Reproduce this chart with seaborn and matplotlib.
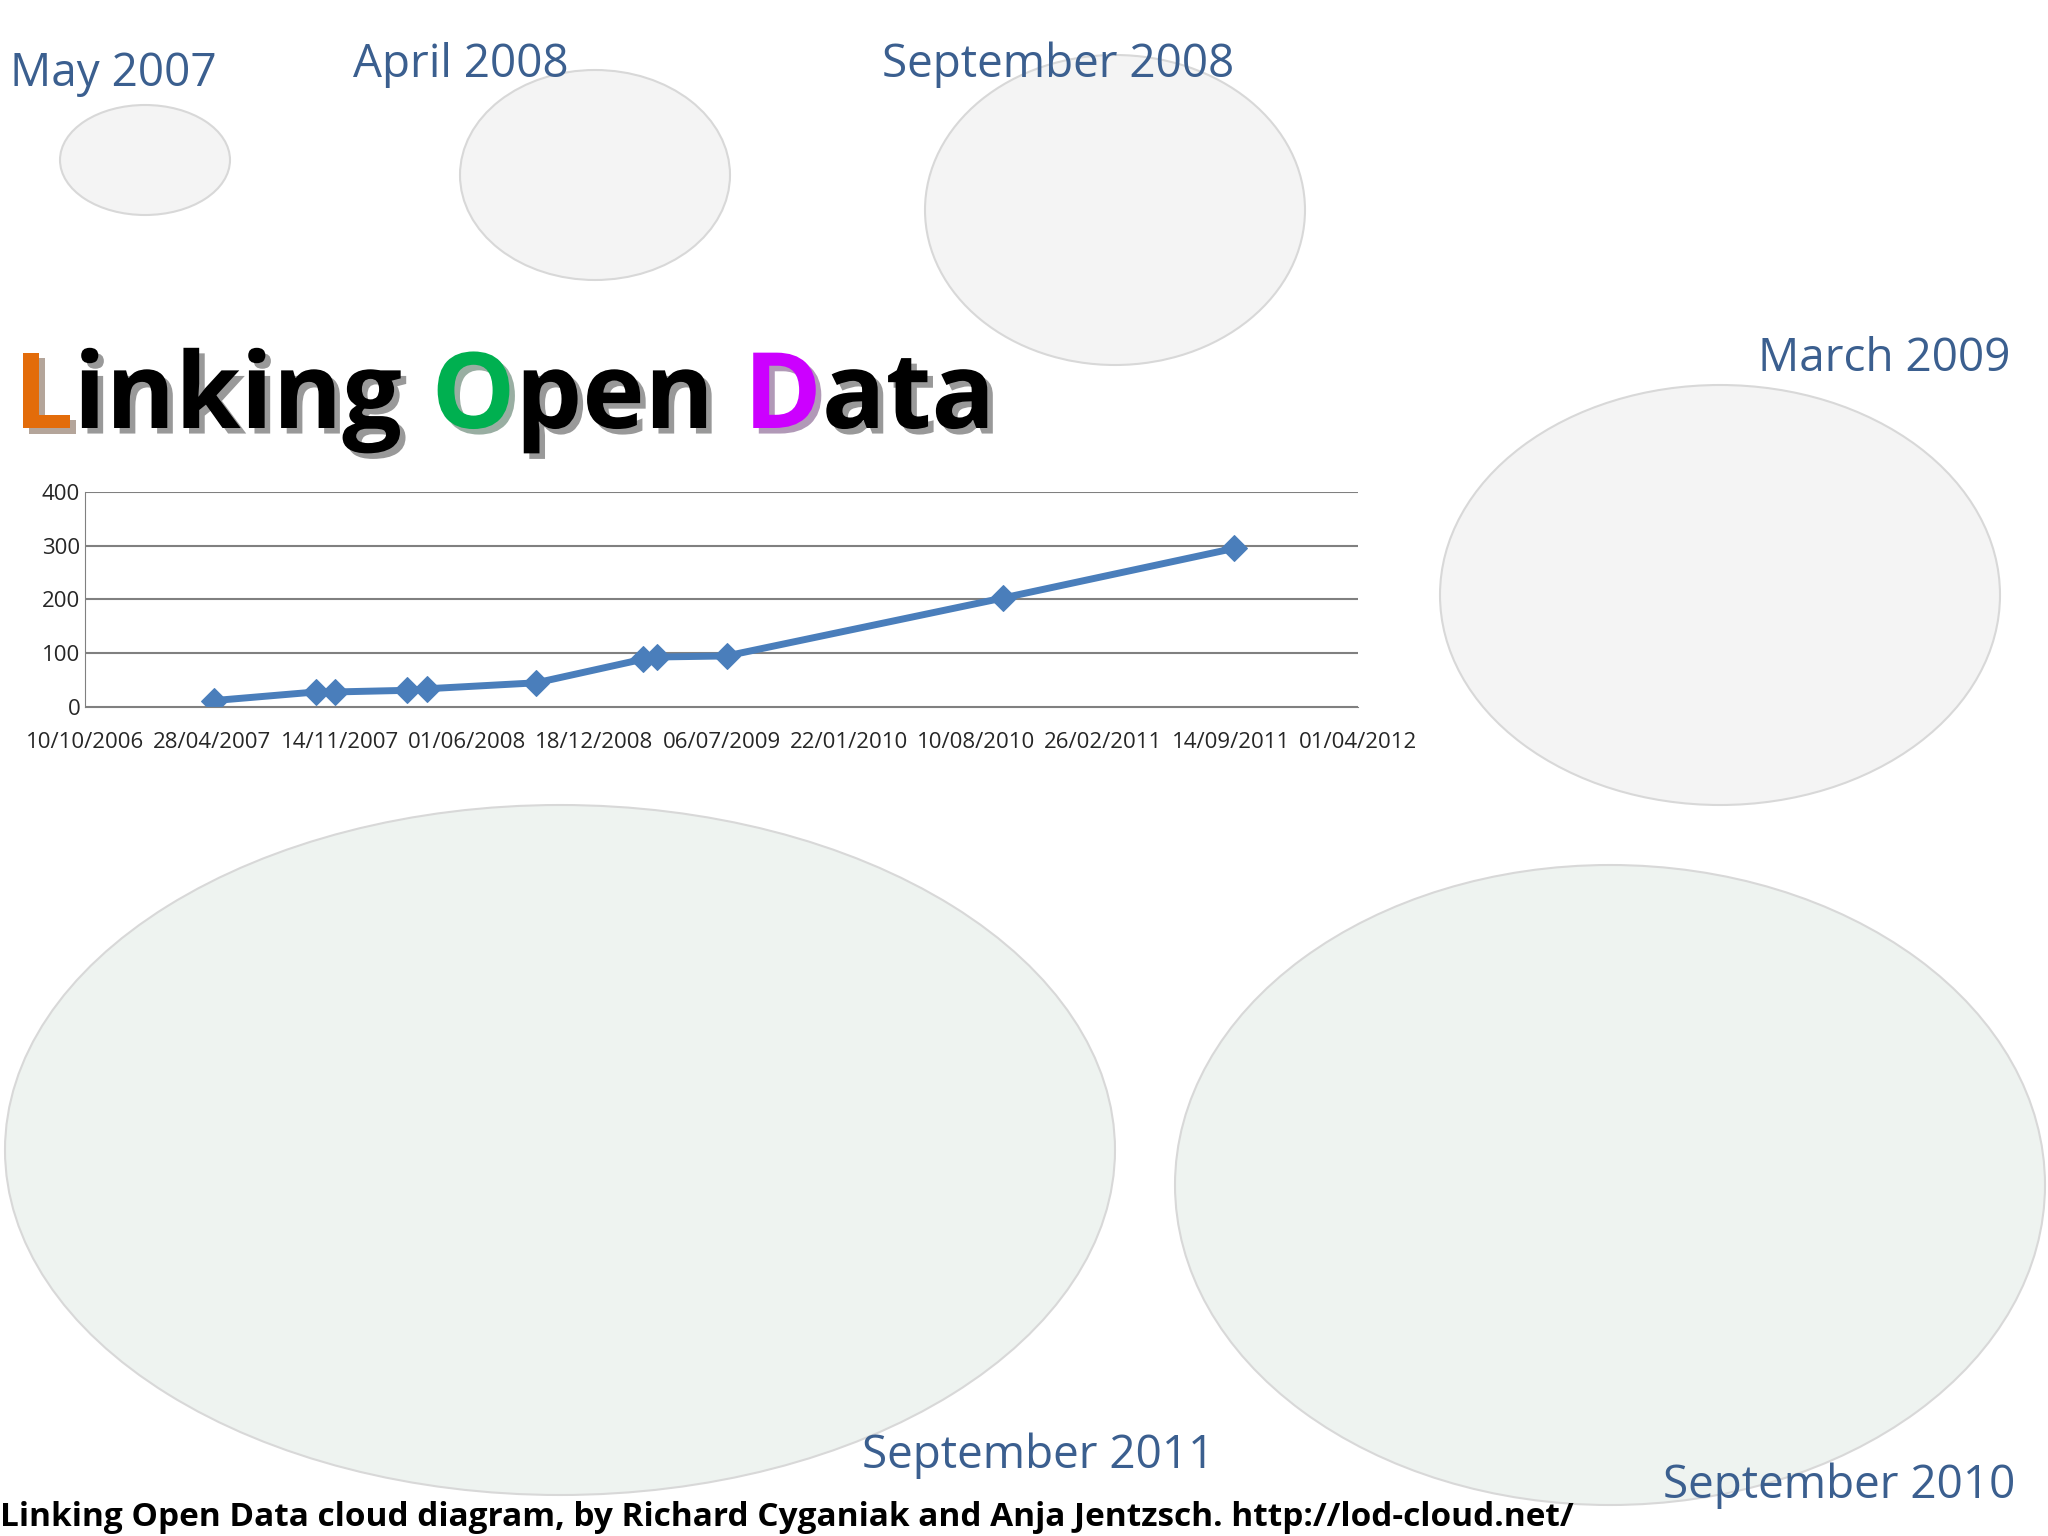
import matplotlib
matplotlib.use("Agg")
import matplotlib.pyplot as plt
import matplotlib.dates as mdates
import matplotlib.patheffects as pe
from matplotlib.patches import Ellipse
import seaborn as sns
import pandas as pd

dates = ["2007-05-01", "2007-10-08", "2007-11-07", "2008-02-28", "2008-03-31",
         "2008-09-18", "2009-03-05", "2009-03-27", "2009-07-14", "2010-09-22", "2011-09-19"]
datasets = [12, 28, 28, 31, 34, 45, 89, 93, 95, 203, 295]
snapshot_labels = ["May 2007", "April 2008", "September 2008", "March 2009",
                   "September 2011", "September 2010"]
title_words = ["Linking", "Open", "Data"]
footer = "Linking Open Data cloud diagram, by Richard Cyganiak and Anja Jentzsch. http://lod-cloud.net/"

df = pd.DataFrame({"date": pd.to_datetime(dates), "n": datasets})

sns.set_style("white")
plt.rcParams["font.family"] = ["Open Sans", "DejaVu Sans"]

W, H = 2048, 1536
fig = plt.figure(figsize=(20.48, 15.36), dpi=100)
blue = "#3b5f8f"

# decorative "cloud" regions
for (cx, cy, w, h, c) in [(145, 160, 170, 110, "#f4f4f4"), (595, 175, 270, 210, "#f4f4f4"),
                          (1115, 210, 380, 310, "#f4f4f4"), (1720, 595, 560, 420, "#f4f4f4"),
                          (560, 1150, 1110, 690, "#eef3f0"), (1610, 1185, 870, 640, "#eef3f0")]:
    fig.patches.append(Ellipse((cx / W, 1 - cy / H), w / W, h / H, transform=fig.transFigure,
                               facecolor=c, edgecolor="#d8d8d8", lw=1.5, zorder=0))

ax = fig.add_axes([85 / W, 1 - 707 / H, (1358 - 85) / W, (707 - 492) / H])
sns.lineplot(data=df, x="date", y="n", ax=ax, color="#4a7ebb", lw=5,
             marker="D", markersize=13, markeredgecolor="#4a7ebb")
ax.set_xlim(pd.Timestamp("2006-10-10"), pd.Timestamp("2012-04-01"))
ax.set_ylim(0, 400)
ticks = pd.date_range("2006-10-10", periods=11, freq="200D")
ax.set_xticks(ticks)
ax.xaxis.set_major_formatter(mdates.DateFormatter("%d/%m/%Y"))
ax.set_yticks([0, 100, 200, 300, 400])
ax.yaxis.grid(True, color="#808080", lw=1.5)
for s in ["top", "right"]:
    ax.spines[s].set_visible(False)
ax.spines["left"].set_color("#808080")
ax.spines["bottom"].set_color("#808080")
ax.tick_params(axis="x", length=8, color="#808080", labelsize=16, pad=10)
ax.tick_params(axis="y", length=0, labelsize=16)
ax.set_xlabel("")
ax.set_ylabel("")
ax.set_facecolor("none")

# snapshot labels
pos = [(10, 74, "left"), (353, 65, "left"), (882, 65, "left"), (2011, 359, "right"),
       (1038, 1456, "center"), (2015, 1486, "right")]
for lab, (x, y, ha) in zip(snapshot_labels, pos):
    fig.text(x / W, 1 - y / H, lab, color=blue, fontsize=33, ha=ha, va="center")

# title
shadow = [pe.withSimplePatchShadow(offset=(4, -4), alpha=0.4)]
colors = ["#e36c0a", "#00b050", "#cc00ff"]
x = 14 / W
for word, c in zip(title_words, colors):
    t1 = fig.text(x, 1 - 400 / H, word[0], color=c, fontsize=76, fontweight="bold",
                  va="center", ha="left", path_effects=shadow)
    fig.canvas.draw()
    bb = t1.get_window_extent()
    x2 = bb.x1 / W
    t2 = fig.text(x2, 1 - 400 / H, word[1:], color="black", fontsize=76, fontweight="bold",
                  va="center", ha="left", path_effects=shadow)
    fig.canvas.draw()
    bb2 = t2.get_window_extent()
    x = bb2.x1 / W + 30 / W

fig.text(0 / W, 1 - 1518 / H, footer, color="black", fontsize=24, fontweight="bold",
         ha="left", va="center")

fig.savefig("out.png", dpi=100)
